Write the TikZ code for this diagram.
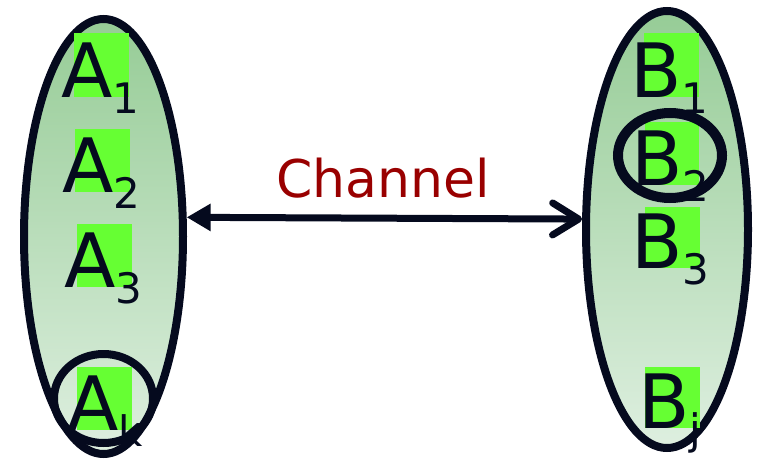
\documentclass[tikz,border=0pt]{standalone}
\usepackage{fontspec}
\setmainfont{DejaVu Sans}
\usetikzlibrary{shapes.geometric,arrows.meta}

\definecolor{ink}{RGB}{5,10,30}
\definecolor{settop}{RGB}{150,204,150}
\definecolor{setbot}{RGB}{222,239,224}
\definecolor{mark}{RGB}{102,255,51}
\definecolor{chan}{RGB}{153,0,0}

\tikzset{
  x=1pt, y=-1pt,
  setshape/.style={ellipse, draw=ink, line width=8pt, inner sep=0pt,
    top color=settop, bottom color=setbot},
  ring/.style={ellipse, draw=ink, inner sep=0pt},
  elem/.style={anchor=base west, inner sep=0pt, text=ink,
    font=\fontsize{75}{75}\selectfont},
  hl/.style={fill=mark},
}
\newcommand{\sbs}[1]{\raisebox{-16pt}{\fontsize{42}{42}\selectfont #1}}

\begin{document}
\begin{tikzpicture}
\useasboundingbox (0,0) rectangle (757,460);

% the two sets
\node[setshape, minimum width=159pt, minimum height=435pt] (L) at (103.5,236.5) {};
\node[setshape, minimum width=162pt, minimum height=437pt] (R) at (667,229.5) {};

% highlight boxes behind the letters
\fill[hl] (74,33) rectangle (129,97);
\fill[hl] (75,129) rectangle (130,192);
\fill[hl] (77,224) rectangle (132,287);
\fill[hl] (77,367) rectangle (132,430);
\fill[hl] (644,33) rectangle (699,97);
\fill[hl] (645,122) rectangle (699,185);
\fill[hl] (645,207) rectangle (700,268);
\fill[hl] (645,367) rectangle (700,428);

% elements of A
\node[elem] (a1) at (61,97)  {A\sbs{1}};
\node[elem] (a2) at (62,192) {A\sbs{2}};
\node[elem] (a3) at (64,287) {A\sbs{3}};
\node[elem] (ak) at (67,430) {A\sbs{k}};

% elements of B
\node[elem] (b1) at (630,97)  {B\sbs{1}};
\node[elem] (b2) at (631,185) {B\sbs{2}};
\node[elem] (b3) at (631,268) {B\sbs{3}};
\node[elem] (bj) at (638,428) {B\sbs{j}};

% chosen elements
\node[ring, line width=8pt, minimum width=99pt, minimum height=89pt] (ca) at (103.5,398.5) {};
\node[ring, line width=10pt, minimum width=104pt, minimum height=85pt] (cb) at (670,155.5) {};

% channel
\draw[ink, line width=7pt,
  {Triangle[length=24pt,width=26pt]}-{Straight Barb[length=26pt,width=32pt,round]}]
  (L.13) -- (R.173);
\node[anchor=base, inner sep=0pt, text=chan, font=\fontsize{52}{52}\selectfont]
  (ch) at (383,197) {Channel};
\end{tikzpicture}
\end{document}
